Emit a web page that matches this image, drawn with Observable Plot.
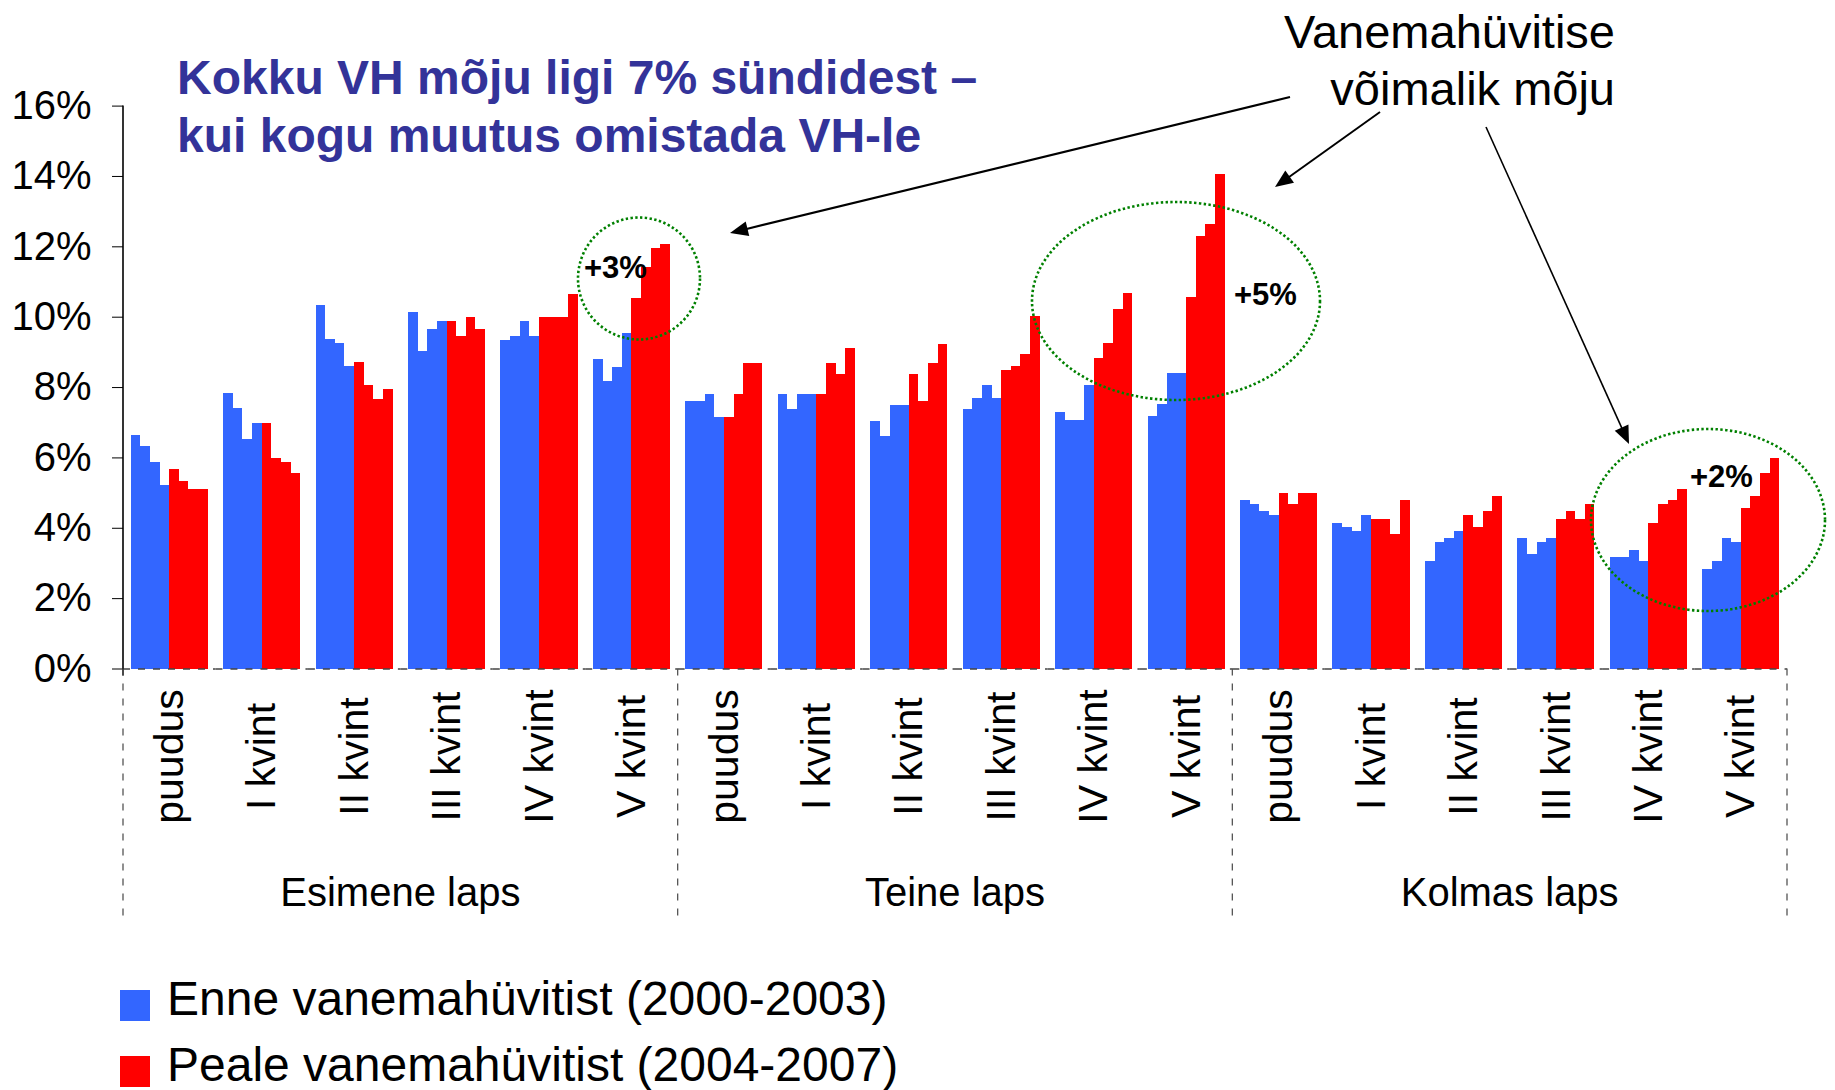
<!DOCTYPE html>
<html><head><meta charset="utf-8">
<script src="https://cdn.jsdelivr.net/npm/d3@7"></script>
<script src="https://cdn.jsdelivr.net/npm/@observablehq/plot@0.6"></script>
<style>
body{margin:0;background:#fff;font-family:"Liberation Sans",Arial,sans-serif;}
#wrap{position:relative;width:1835px;height:1090px;overflow:hidden;background:#fff;}
.leg{position:absolute;left:167px;font-size:48px;line-height:48px;white-space:nowrap;color:#000;}
.sw{position:absolute;left:120px;width:30px;height:31px;}
</style></head><body><div id="wrap"></div>
<script>
// ---- data ----
const children = ["Esimene laps", "Teine laps", "Kolmas laps"];
const quintiles = ["puudus", "I kvint", "II kvint", "III kvint", "IV kvint", "V kvint"];
const yearsBefore = [2000, 2001, 2002, 2003];
const yearsAfter = [2004, 2005, 2006, 2007];
const seriesNames = ["Enne vanemahüvitist (2000-2003)", "Peale vanemahüvitist (2004-2007)"];
// share of births (%), 18 groups (child x quintile), 4 years each
const before = [
  [6.63, 6.33, 5.87, 5.22], [7.83, 7.41, 6.53, 6.98], [10.33, 9.36, 9.26, 8.60],
  [10.12, 9.03, 9.65, 9.88], [9.35, 9.46, 9.88, 9.46], [8.81, 8.16, 8.58, 9.55],
  [7.61, 7.61, 7.81, 7.16], [7.81, 7.39, 7.81, 7.81], [7.04, 6.62, 7.50, 7.50],
  [7.39, 7.69, 8.05, 7.70], [7.29, 7.06, 7.06, 8.06], [7.18, 7.52, 8.39, 8.39],
  [4.79, 4.68, 4.48, 4.36], [4.14, 4.02, 3.91, 4.36], [3.06, 3.60, 3.71, 3.91],
  [3.71, 3.26, 3.60, 3.71], [3.17, 3.17, 3.37, 3.06], [2.83, 3.06, 3.71, 3.60]
];
const after = [
  [5.67, 5.33, 5.10, 5.10], [6.98, 5.98, 5.87, 5.56], [8.71, 8.06, 7.65, 7.94],
  [9.88, 9.46, 10.00, 9.65], [10.00, 10.00, 10.00, 10.65], [10.54, 11.42, 11.96, 12.07],
  [7.16, 7.81, 8.69, 8.69], [7.81, 8.69, 8.38, 9.12], [8.38, 7.61, 8.69, 9.23],
  [8.48, 8.59, 8.93, 10.02], [8.82, 9.25, 10.22, 10.67], [10.56, 12.30, 12.63, 14.06],
  [4.99, 4.68, 4.99, 4.99], [4.25, 4.25, 3.82, 4.79], [4.36, 4.02, 4.48, 4.91],
  [4.25, 4.48, 4.25, 4.68], [4.14, 4.68, 4.79, 5.10], [4.56, 4.91, 5.56, 5.98]
];
const yDomain = [0, 16];
const titleLines = ["Kokku VH mõju ligi 7% sündidest –", "kui kogu muutus omistada VH-le"];
const calloutLines = ["Vanemahüvitise", "võimalik mõju"];
const effectLabels = ["+3%", "+5%", "+2%"];
const colors = ["#3366FF", "#FF0000"];

// ---- build table ----
const keyOf = (c, q) => c + "|" + q;
const groups = [];
children.forEach((c) => quintiles.forEach((q) => groups.push({key: keyOf(c, q), child: c, quintile: q})));
const rows = [];
groups.forEach((g, gi) => {
  yearsBefore.forEach((yr, i) => rows.push({key: g.key, year: yr, value: before[gi][i], series: seriesNames[0]}));
  yearsAfter.forEach((yr, i) => rows.push({key: g.key, year: yr, value: after[gi][i], series: seriesNames[1]}));
});

// ---- layout ----
const W = 1835, H = 967;
const font = '"Liberation Sans", Arial, sans-serif';

const chart = Plot.plot({
  width: W, height: H,
  marginLeft: 123, marginRight: 48, marginTop: 105.6, marginBottom: H - 668.5,
  style: {fontFamily: font, fontSize: "40px", color: "#000", background: "#fff", overflow: "visible"},
  fx: {domain: groups.map(g => g.key), padding: 0, round: false, axis: null, label: null},
  x: {domain: [...yearsBefore, ...yearsAfter], paddingInner: 0, paddingOuter: 0.8, round: false, axis: null, label: null},
  y: {domain: yDomain, ticks: 8, tickFormat: d => d + "%", tickSize: 11, tickPadding: 21, label: null},
  color: {domain: seriesNames, range: colors},
  marks: [
    Plot.barY(rows, {fx: "key", x: "year", y: "value", fill: "series", inset: 0}),
    Plot.ruleY([0], {stroke: "#444", strokeWidth: 1.5, strokeDasharray: "7,8"}),
    Plot.text(groups, {fx: "key", text: "quintile", frameAnchor: "bottom", dy: 87.5, rotate: -90,
      textAnchor: "middle", lineAnchor: "middle", fontSize: 41, fill: "#000"})
  ]
});

document.getElementById("wrap").appendChild(chart);
const svg = d3.select(chart);
svg.selectAll('g[aria-label="bar"] rect').attr("shape-rendering", "crispEdges");

const fx = chart.scale("fx"), y = chart.scale("y");
const bw = fx.bandwidth;
const x0 = fx.apply(groups[0].key);
const y0 = y.apply(0), yTop = y.apply(16);

// y axis line
svg.append("line").attr("x1", x0).attr("x2", x0).attr("y1", yTop).attr("y2", y0 + 7)
  .attr("stroke", "#000").attr("stroke-width", 1.6);

// dashed separators between child blocks
const sepX = [fx.apply(groups[0].key), fx.apply(groups[6].key), fx.apply(groups[12].key), fx.apply(groups[17].key) + bw];
sepX.forEach(sx => svg.append("line").attr("x1", sx).attr("x2", sx).attr("y1", y0).attr("y2", 922)
  .attr("stroke", "#555").attr("stroke-width", 1.3).attr("stroke-dasharray", "7,8"));

// child labels
children.forEach((c, ci) => {
  svg.append("text").attr("x", fx.apply(groups[ci * 6 + 3].key)).attr("y", 906)
    .attr("text-anchor", "middle").attr("font-size", 40).attr("font-family", font)
    .attr("fill", "#000").text(c);
});

// title
titleLines.forEach((t, i) => svg.append("text").attr("x", 177).attr("y", 94 + i * 58)
  .attr("text-anchor", "start").attr("font-size", 48).attr("font-weight", "bold").attr("font-family", font)
  .attr("fill", "#333399").text(t));

// callout
calloutLines.forEach((t, i) => svg.append("text").attr("x", 1615).attr("y", 48 + i * 57)
  .attr("text-anchor", "end").attr("font-size", 47).attr("font-family", font)
  .attr("fill", "#000").text(t));

// ellipses
const ellipses = [
  {cx: 639, cy: 278.5, rx: 61, ry: 61},
  {cx: 1176, cy: 301, rx: 144, ry: 99},
  {cx: 1708, cy: 520, rx: 117, ry: 91}
];
ellipses.forEach(e => svg.append("ellipse").attr("cx", e.cx).attr("cy", e.cy).attr("rx", e.rx).attr("ry", e.ry)
  .attr("fill", "none").attr("stroke", "#008000").attr("stroke-width", 2.6).attr("stroke-dasharray", "2.4,2.4"));

// effect labels
const effectPos = [{x: 584, y: 278}, {x: 1234, y: 305}, {x: 1690, y: 487}];
effectLabels.forEach((t, i) => svg.append("text").attr("x", effectPos[i].x).attr("y", effectPos[i].y)
  .attr("text-anchor", "start").attr("font-size", 31).attr("font-weight", "bold").attr("font-family", font)
  .attr("fill", "#000").text(t));

// arrows
const arrows = [
  {x1: 1290, y1: 97, x2: 730, y2: 233, w: 2.2},
  {x1: 1380, y1: 112, x2: 1275, y2: 187, w: 2},
  {x1: 1486, y1: 127, x2: 1629, y2: 444, w: 1.6}
];
arrows.forEach(a => {
  const dx = a.x2 - a.x1, dy = a.y2 - a.y1, L = Math.hypot(dx, dy);
  const ux = dx / L, uy = dy / L, hl = 18, hw = 7.5;
  const bx = a.x2 - ux * hl, by = a.y2 - uy * hl;
  svg.append("line").attr("x1", a.x1).attr("y1", a.y1).attr("x2", bx + ux * 2).attr("y2", by + uy * 2)
    .attr("stroke", "#000").attr("stroke-width", a.w);
  svg.append("polygon").attr("points",
    [[a.x2, a.y2], [bx - uy * hw, by + ux * hw], [bx + uy * hw, by - ux * hw]].map(p => p.join(",")).join(" "))
    .attr("fill", "#000");
});

// legend
const wrap = document.getElementById("wrap");
seriesNames.forEach((s, i) => {
  const sw = document.createElement("div");
  sw.className = "sw"; sw.style.top = (990 + i * 66) + "px"; sw.style.background = colors[i];
  wrap.appendChild(sw);
  const t = document.createElement("div");
  t.className = "leg"; t.style.top = (975.4 + i * 66) + "px"; t.textContent = s;
  wrap.appendChild(t);
});
</script></body></html>
